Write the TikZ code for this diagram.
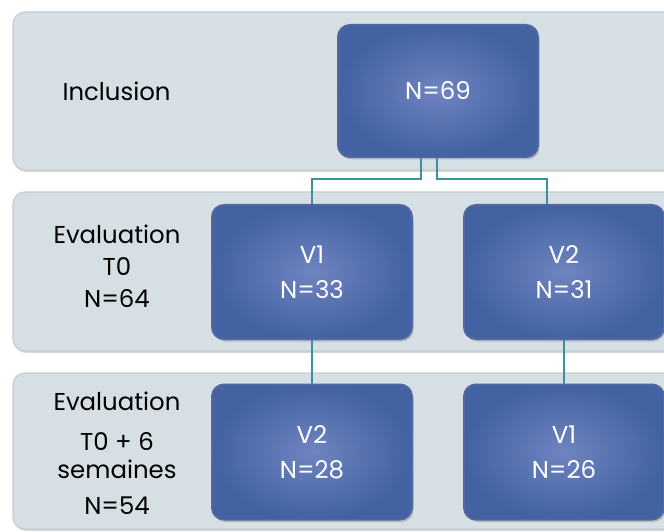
\documentclass[tikz,border=0pt]{standalone}
\usepackage{fontspec}
\setmainfont{Poppins}
\usetikzlibrary{shadows}
\definecolor{bandfill}{HTML}{D6DFE4}
\definecolor{bandline}{HTML}{C4CED4}
\definecolor{boxout}{HTML}{4262A2}
\definecolor{boxin}{HTML}{6F84C0}
\definecolor{boxline}{HTML}{5267A2}
\definecolor{conn}{HTML}{3C929C}
\begin{document}
\begin{tikzpicture}[x=1bp,y=-1bp,
  band/.style={draw=bandline, line width=1.2bp, fill=bandfill, rounded corners=12bp,
    drop shadow={shadow xshift=1bp, shadow yshift=-2bp, opacity=0.3}},
  bluebox/.style={draw=boxline, line width=2bp, rounded corners=12bp,
    inner color=boxin, outer color=boxout, text=white, align=center,
    font=\fontsize{24.5}{35}\selectfont, minimum width=200bp,
    drop shadow={shadow xshift=1.5bp, shadow yshift=-2.5bp, opacity=0.4}},
  lbl/.style={text=black, align=center, font=\fontsize{24.5}{32}\selectfont},
  conn/.style={draw=conn, line width=1.5bp}]
\clip (0,0) rectangle (664,532);
\fill[white] (0,0) rectangle (664,532);
% bands
\path[band] (13,12) rectangle (700,170);
\path[band] (13,192) rectangle (700,351);
\path[band] (13,373) rectangle (700,529);
% labels
\node[lbl, anchor=west] (linc) at (59,91) {Inclusion};
\node[lbl] (leval1) at (117,266) {Evaluation\\T0\\N=64};
\node[lbl] (leval2) at (117,453) {Evaluation\\[8bp]T0 + 6\\[-4bp]semaines\\[4bp]N=54};
% boxes
\node[bluebox, minimum height=132bp] (n69) at (438,91) {N=69};
\node[bluebox, minimum height=134bp] (v1a) at (312,272) {V1\\N=33};
\node[bluebox, minimum height=134bp] (v2a) at (564,272) {V2\\N=31};
\node[bluebox, minimum height=135bp] (v2b) at (312,452) {V2\\N=28};
\node[bluebox, minimum height=135bp] (v1b) at (564,452) {V1\\N=26};
% connectors
\draw[conn] ([xshift=-17bp]n69.south) -- ++(0,21) -| (v1a.north);
\draw[conn] ([xshift=-1bp]n69.south) -- ++(0,21) -| ([xshift=-17bp]v2a.north);
\draw[conn] (v1a.south) -- (v2b.north);
\draw[conn] (v2a.south) -- (v1b.north);
\end{tikzpicture}
\end{document}
